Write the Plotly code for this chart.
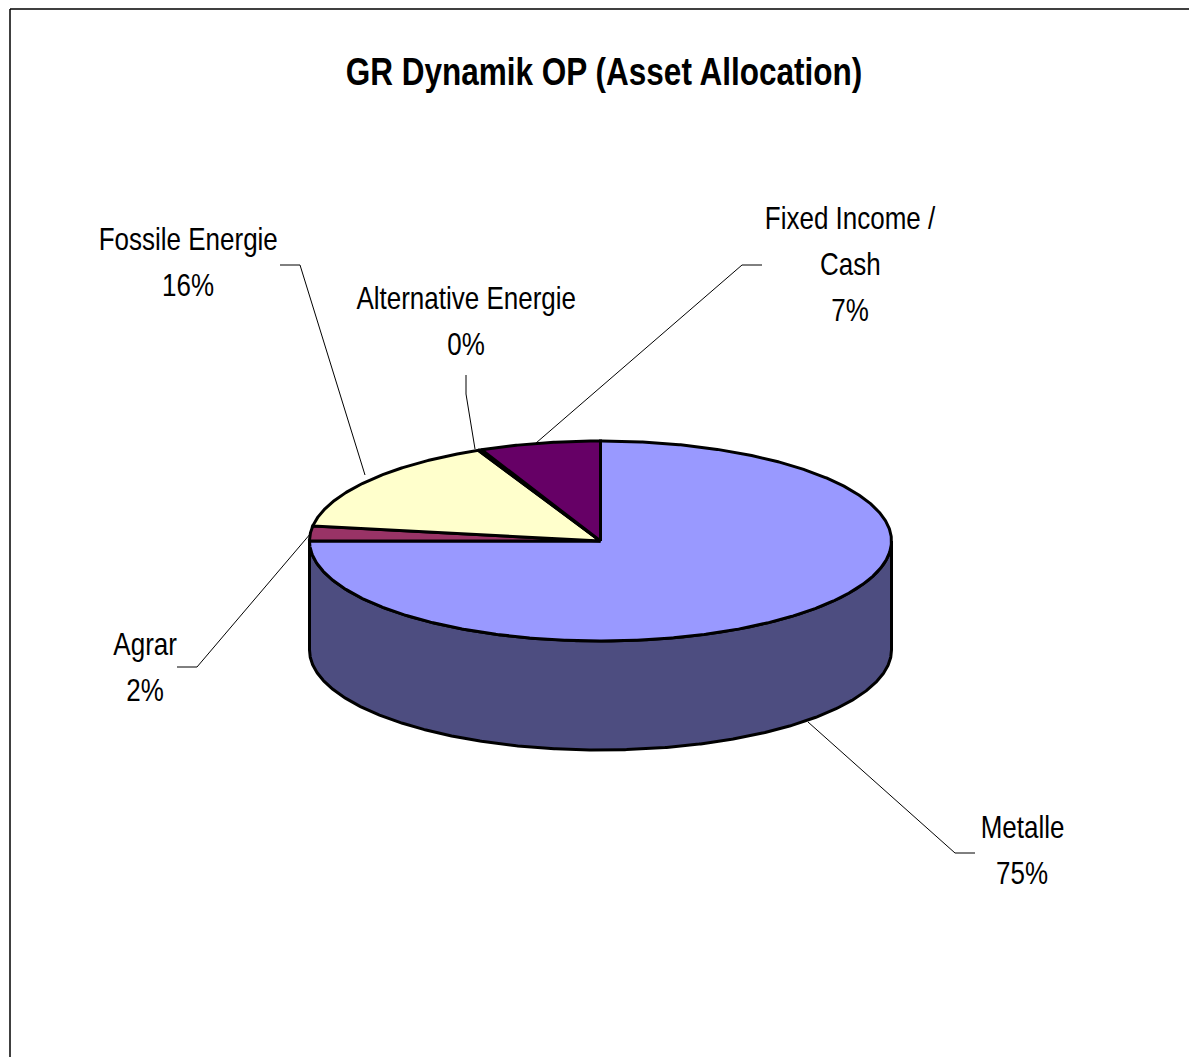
import numpy as np
import plotly.graph_objects as go

categories = ["Metalle", "Agrar", "Fossile Energie", "Alternative Energie", "Fixed Income /<br>Cash"]
values = [75.0, 2.4, 15.7, 0.2, 6.7]
percent_labels = ["75%", "2%", "16%", "0%", "7%"]
top_colors = ["#9999FF", "#993366", "#FFFFCC", "#CCFFFF", "#660066"]
wall_color = "#4D4D80"
title = "GR Dynamik OP (Asset Allocation)"

W, H = 1189, 1057
CX, CY, RX, RY, DEPTH = 600.5, 541, 291, 100, 109
FONT = "Liberation Sans"
LINE_GAP = 46
EDGE = 3


def arc(t0, t1, dy=0.0):
    n = max(2, int(abs(t1 - t0) * 3) + 2)
    t = np.radians(np.linspace(t0, t1, n))
    return CX + RX * np.sin(t), CY + dy - RY * np.cos(t)


fig = go.Figure()

# outer wall of the visible front half
x1, y1 = arc(90, 270)
x2, y2 = arc(270, 90, DEPTH)
fig.add_trace(go.Scatter(
    x=np.r_[x1, x2, x1[0]], y=np.r_[y1, y2, y1[0]], mode="lines", fill="toself",
    fillcolor=wall_color, line=dict(color="black", width=EDGE), hoverinfo="skip"))

# top face, clockwise from 12 o'clock
start = 0.0
total = sum(values)
for name, v, c in zip(categories, values, top_colors):
    end = start + v / total * 360
    ax, ay = arc(start, end)
    fig.add_trace(go.Scatter(
        x=np.r_[CX, ax, CX], y=np.r_[CY, ay, CY], mode="lines", fill="toself",
        fillcolor=c, line=dict(color="black", width=EDGE), name=name.replace("<br>", " "),
        hoverinfo="name"))
    start = end

leaders = [
    ([808, 955, 975], [722, 853, 853]),
    ([311, 197, 177], [533, 667, 667]),
    ([365, 300, 280], [475, 265, 265]),
    ([475, 466, 466], [449, 394, 375]),
    ([536, 742, 762], [443, 265, 265]),
]
for lx, ly in leaders:
    fig.add_trace(go.Scatter(x=lx, y=ly, mode="lines", line=dict(color="black", width=1),
                             hoverinfo="skip"))

label_pos = [(1022, 850), (145, 667), (188, 262), (466, 321), (850, 264)]
annotations = []
for name, pct, (lx, ly) in zip(categories, percent_labels, label_pos):
    lines = name.split("<br>") + [pct]
    top = ly - LINE_GAP * (len(lines) - 1) / 2
    for i, line in enumerate(lines):
        annotations.append(dict(
            x=lx, y=top + i * LINE_GAP, xref="x", yref="y", text=line, showarrow=False,
            xanchor="center", yanchor="middle",
            font=dict(family=FONT, size=32, color="black")))
annotations.append(dict(
    x=603.5, y=71, xref="x", yref="y", text=f"<b>{title}</b>", showarrow=False,
    xanchor="center", yanchor="middle", font=dict(family=FONT, size=38.8, color="black")))

shapes = [
    dict(type="line", xref="x", yref="y", x0=10, x1=10, y0=9, y1=H, line=dict(color="black", width=1.5)),
    dict(type="line", xref="x", yref="y", x0=10, x1=W, y0=9, y1=9, line=dict(color="black", width=1.5)),
]

fig.update_layout(
    width=W, height=H, margin=dict(l=0, r=0, t=0, b=0), showlegend=False,
    paper_bgcolor="white", plot_bgcolor="white", annotations=annotations, shapes=shapes,
    xaxis=dict(range=[0, W], visible=False, fixedrange=True),
    yaxis=dict(range=[H, 0], visible=False, fixedrange=True),
)

# the reference's type is horizontally condensed Arial; squeeze the real text to match
post = """
document.body.style.margin='0';
var st=document.createElement('style');
st.textContent='text.annotation-text{transform-box:fill-box;transform-origin:center;transform:scaleX(0.8125);}';
document.head.appendChild(st);
"""
fig.write_html("out.html", post_script=post, config={"displayModeBar": False})
